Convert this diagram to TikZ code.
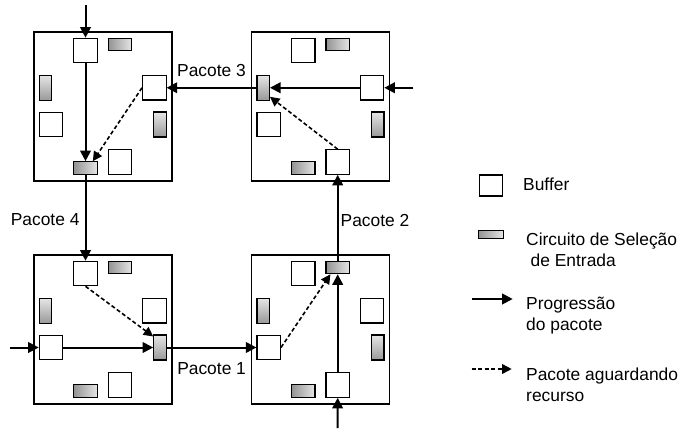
\documentclass[tikz,border=0pt]{standalone}
\usepackage{fontspec}
\setmainfont{Liberation Sans}
\usetikzlibrary{arrows.meta}
\newcommand\routerblock[3]{%
 \begin{scope}[shift={(#2,#3)}]
  \node[routerbox] (#1-box) at (69,74.5) {};
  \node[bufbox] (#1-bt) at (51.5,18.5) {};
  \node[selh] (#1-st) at (86,12.5) {};
  \node[selv] (#1-sl) at (11.5,55.75) {};
  \node[bufbox] (#1-br) at (120.3,55.75) {};
  \node[bufbox] (#1-bl) at (17,92.5) {};
  \node[selv] (#1-sr) at (126,92.5) {};
  \node[selh] (#1-sb) at (51.5,136) {};
  \node[bufbox] (#1-bb) at (86,130) {};
 \end{scope}}
\begin{document}
\begin{tikzpicture}[x=1pt,y=-1pt,
  routerbox/.style={draw,line width=1.4pt,minimum width=138pt,minimum height=149pt,inner sep=0pt},
  bufbox/.style={draw,line width=1.1pt,fill=white,minimum width=23.5pt,minimum height=24.5pt,inner sep=0pt},
  selh/.style={draw,line width=1.1pt,left color=gray!85,right color=gray!20,minimum width=23.5pt,minimum height=12.5pt,inner sep=0pt},
  selv/.style={draw,line width=1.1pt,top color=gray!20,bottom color=gray!80,minimum width=12.5pt,minimum height=25pt,inner sep=0pt},
  flow/.style={line width=2pt,-{Triangle[length=10.5pt,width=10.5pt]}},
  wait/.style={line width=1.6pt,dash pattern=on 4pt off 2.5pt,-{Triangle[length=9.5pt,width=9.5pt]}},
  lbl/.style={inner sep=0pt,font=\fontsize{17.4}{21}\selectfont},
  legtxt/.style={inner sep=0pt,align=left,anchor=west,font=\fontsize{17.4}{21}\selectfont}]
\useasboundingbox (0,0) rectangle (679,428);
\routerblock{a}{34}{32}
\routerblock{b}{251.7}{32}
\routerblock{c}{34}{255}
\routerblock{d}{251.7}{255}
% external inputs
\coordinate (inA) at (85.5,5);
\coordinate (inB) at (413.3,87.75);
\coordinate (inC) at (10,347.5);
\coordinate (inD) at (337.5,428);
% router a (top left)
\draw[flow] (inA) -- (a-bt.north);
\draw[flow] (a-bt.south) -- (a-sb.north);
\draw[wait] (a-br.west) -- ([xshift=-5pt]a-sb.north east);
\draw[flow] (a-sb.south) -- node[lbl,left=5pt,pos=.52]{Pacote 4} (c-bt.north);
% router b (top right)
\draw[flow] (inB) -- (b-br.east);
\draw[flow] (b-br.west) -- (b-sl.east);
\draw[wait] (b-bb.north) -- ([yshift=4pt]b-sl.south east);
\draw[flow] (b-sl.west) -- node[lbl,above=10.5pt]{Pacote 3} (a-br.east);
% router c (bottom left)
\draw[flow] (inC) -- (c-bl.west);
\draw[flow] (c-bl.east) -- (c-sr.west);
\draw[wait] (c-bt.south) -- ([yshift=-2pt]c-sr.north west);
\draw[flow] (c-sr.east) -- node[lbl,below=14pt]{Pacote 1} (d-bl.west);
% router d (bottom right)
\draw[flow] (inD) -- (d-bb.south);
\draw[flow] (d-bb.north) -- (d-st.south);
\draw[wait] (d-bl.east) -- ([xshift=5pt]d-st.south west);
\draw[flow] (d-st.north) -- node[lbl,right=2pt,pos=.47]{Pacote 2} (b-bb.south);
% legend
\node[bufbox,minimum width=23.4pt,minimum height=21pt] (lbuf) at (491,185.5) {};
\node[legtxt] (lbuftxt) at (523,184) {Buffer};
\node[selh,minimum width=25pt,minimum height=8pt] (lsel) at (490.8,234.2) {};
\node[legtxt] (lseltxt) at (526,249.4) {Circuito de Seleção\\\hspace*{4.5pt}de Entrada};
\coordinate (lf1) at (472.3,299);
\coordinate (lf2) at (512.7,299);
\draw[flow] (lf1) -- (lf2);
\node[legtxt] (lflowtxt) at (526,315.5) {Progressão\\do pacote};
\coordinate (lw1) at (471.7,369);
\coordinate (lw2) at (511.7,369);
\draw[wait] (lw1) -- (lw2);
\node[legtxt] (lwaittxt) at (526,385) {Pacote aguardando\\recurso};
\end{tikzpicture}
\end{document}
